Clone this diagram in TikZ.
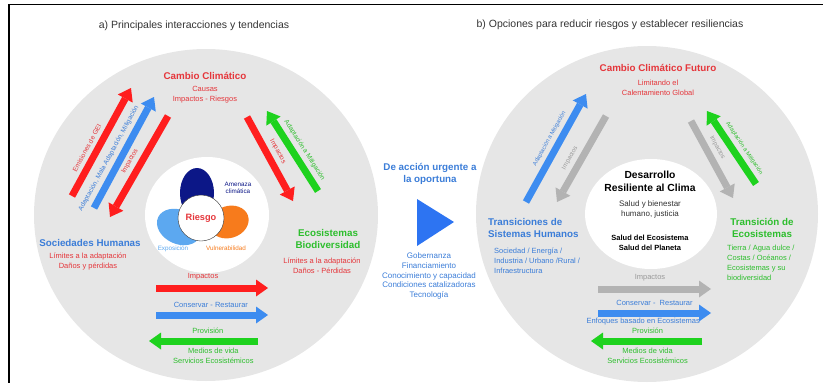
\documentclass[tikz,border=0pt]{standalone}
\usepackage{fontspec}
\setmainfont{Liberation Sans}
\usetikzlibrary{positioning,arrows.meta}
\definecolor{rojo}{HTML}{FF1E1E}
\definecolor{rojotxt}{HTML}{E5363B}
\definecolor{azul}{HTML}{3D8CF0}
\definecolor{azultxt}{HTML}{3B7DD8}
\definecolor{verde}{HTML}{1ED21E}
\definecolor{verdetxt}{HTML}{2DBE2D}
\definecolor{gris}{HTML}{E6E6E6}
\definecolor{grisflecha}{HTML}{B3B3B3}
\definecolor{gristxt}{HTML}{9A9A9A}
\definecolor{marino}{HTML}{0C1787}
\definecolor{naranja}{HTML}{F77B1C}
\definecolor{celeste}{HTML}{5CA8F0}
\definecolor{triangulo}{HTML}{2D74F2}
\definecolor{titulo}{HTML}{333333}
\newcommand{\txtgrande}{\fontsize{9.8}{12}\selectfont\bfseries}
\newcommand{\txtmedio}{\fontsize{7.5}{10}\selectfont}
\newcommand{\txtflecha}{\fontsize{6.6}{7}\selectfont}
\tikzset{%
  fat arrow/.style={
    line width=7pt,
    -{Triangle[width=17pt,length=12pt,line width=0pt]}
  },
  arrow label/.style={
    font=\txtflecha,
    inner sep=0pt,
    sloped
  },
}

\begin{document}
\begin{tikzpicture}[x=1pt,y=-1pt,>=latex]
        \tikzstyle{titulo}=[text=titulo,font=\fontsize{10.5}{12}\selectfont]
        \tikzstyle{encabezado}=[font=\txtgrande,align=center]
        \tikzstyle{detalle}=[font=\txtmedio,align=center,inner sep=0pt]
        \useasboundingbox (0,0) rectangle (823,383);

        % marco
        \draw[titulo,line width=1.6pt] (9,383) -- (9,4.5) -- (823,4.5);

        % circulos
        \fill[gris] (206,215) ellipse (172 and 166);
        \fill[gris] (647,214) ellipse (171 and 168);
        \fill[white] (207,215) ellipse (62 and 58);
        \fill[white] (651,214) ellipse (66 and 55);

        % titulos
        \node[titulo] (tituloA) at (194,26) {a) Principales interacciones y tendencias};
        \node[titulo] (tituloB) at (610,25) {b) Opciones para reducir riesgos y establecer resiliencias};

        % --- a) ---
        \node[encabezado,text=rojotxt] (cambio) at (205,76) {Cambio Climático};
        \node[detalle,text=rojotxt] (causas) at (205,95) {Causas\\Impactos - Riesgos};
        \node[encabezado,text=azultxt] (sociedades) at (90,243) {Sociedades Humanas};
        \node[detalle,text=rojotxt] (limitesA) at (88,262) {Límites a la adaptación\\Daños y pérdidas};
        \node[encabezado,text=verdetxt] (ecosistemas) at (328,239) {Ecosistemas\\Biodiversidad};
        \node[detalle,text=rojotxt] (limitesB) at (322,266) {Límites a la adaptación\\Daños - Pérdidas};

        % riesgo
        \fill[celeste,rotate around={-25:(179,227)}] (179,227) ellipse (23 and 17);
        \fill[naranja,rotate around={18:(229,222)}] (229,222) ellipse (20 and 16);
        \fill[marino] (197,193) ellipse (17 and 25);
        \node[circle,draw=titulo,fill=white,minimum size=46pt,inner sep=0pt,
              text=rojotxt,font=\fontsize{9.2}{10}\selectfont\bfseries] (riesgo) at (201,218) {Riesgo};
        \node[detalle,text=marino,font=\fontsize{6.3}{7.5}\selectfont] (amenaza) at (238,188) {Amenaza\\climática};
        \node[detalle,text=celeste,font=\fontsize{6.3}{7.5}\selectfont] (exposicion) at (173,249) {Exposición};
        \node[detalle,text=naranja,font=\fontsize{6.3}{7.5}\selectfont] (vulnerabilidad) at (226,248) {Vulnerabilidad};

        \coordinate (emi0) at (72,196);   \coordinate (emi1) at (131,88);
        \coordinate (ada0) at (94,208);   \coordinate (ada1) at (154,97);
        \coordinate (imp0) at (168,116);  \coordinate (imp1) at (110,217);
        \coordinate (impd0) at (247,117); \coordinate (impd1) at (293,201);
        \coordinate (mit0) at (318,191);  \coordinate (mit1) at (267,111);

        \draw[fat arrow,rojo] (emi0) -- node[arrow label,above=4pt,pos=0.4,text=rojotxt] (lblEmi) {Emisiones de GEI} (emi1);
        \draw[fat arrow,azul] (ada0) -- node[arrow label,above=4pt,pos=0.4,text=azultxt] (lblAda) {Adaptación, Mala Adaptación, Mitigación} (ada1);
        \draw[fat arrow,rojo] (imp0) -- node[arrow label,above=4pt,pos=0.5,text=rojotxt] (lblImp) {Impactos} (imp1);
        \draw[fat arrow,rojo] (impd0) -- node[arrow label,above=4pt,pos=0.47,text=rojotxt] (lblImpd) {Impactos} (impd1);
        \draw[fat arrow,verde] (mit0) -- node[arrow label,above=4pt,pos=0.44,text=verdetxt] (lblMit) {Adaptación a Mitigación} (mit1);

        \coordinate (li0) at (156,288); \coordinate (li1) at (268,288);
        \coordinate (lc0) at (156,315); \coordinate (lc1) at (268,315);
        \coordinate (lp0) at (258,341); \coordinate (lp1) at (149,341);

        \draw[fat arrow,rojo] (li0) -- node[detalle,above=4pt,pos=0.42,text=rojotxt] (lblLi) {Impactos} (li1);
        \draw[fat arrow,azul] (lc0) -- node[detalle,above=4pt,pos=0.49,text=azultxt] (lblLc) {Conservar - Restaurar} (lc1);
        \draw[fat arrow,verde] (lp0) -- node[detalle,above=4pt,pos=0.46,text=verdetxt] (lblLp) {Provisión}
              node[detalle,below=4pt,pos=0.41,text=verdetxt] (lblLm) {Medios de vida\\Servicios Ecosistémicos} (lp1);

        % centro
        \node[encabezado,text=azultxt] (accion) at (430,174) {De acción urgente a\\la oportuna};
        \coordinate (tri0) at (417,199); \coordinate (tri1) at (454,222); \coordinate (tri2) at (417,246);
        \fill[triangulo] (tri0) -- (tri1) -- (tri2) -- cycle;
        \node[detalle,text=azultxt,font=\fontsize{8}{9.6}\selectfont] (gobernanza) at (429,276)
              {Gobernanza\\Financiamiento\\Conocimiento y capacidad\\Condiciones catalizadoras\\Tecnología};

        % --- b) ---
        \node[encabezado,text=rojotxt] (futuro) at (658,68) {Cambio Climático Futuro};
        \node[detalle,text=rojotxt] (limitando) at (658,88) {Limitando el\\Calentamiento Global};
        \node[encabezado,font=\fontsize{10.3}{13}\selectfont\bfseries] (desarrollo) at (650,181) {Desarrollo\\Resiliente al Clima};
        \node[detalle,text=titulo,font=\fontsize{8}{10}\selectfont] (bienestar) at (650,209) {Salud y bienestar\\humano, justicia};
        \node[detalle,font=\fontsize{7.5}{10}\selectfont\bfseries] (planeta) at (650,243) {Salud del Ecosistema\\Salud del Planeta};
        \node[encabezado,text=azultxt,align=left,anchor=west,inner sep=0pt] (transiciones) at (488,228) {Transiciones de\\Sistemas Humanos};
        \node[detalle,text=azultxt,align=left,anchor=west] (sociedad) at (494,261) {Sociedad / Energía /\\Industria / Urbano /Rural /\\Infraestructura};
        \node[encabezado,text=verdetxt] (transicion) at (762,228) {Transición de\\Ecosistemas};
        \node[detalle,text=verdetxt,align=left,anchor=west] (tierra) at (727,263) {Tierra / Agua dulce /\\Costas / Océanos /\\Ecosistemas y su\\biodiversidad};

        \coordinate (rad0) at (526,202); \coordinate (rad1) at (586,94);
        \coordinate (rim0) at (606,116); \coordinate (rim1) at (557,202);
        \coordinate (rid0) at (691,121); \coordinate (rid1) at (733,198);
        \coordinate (rmi0) at (756,184); \coordinate (rmi1) at (707,111);

        \draw[fat arrow,azul] (rad0) -- node[arrow label,above=4pt,pos=0.54,text=azultxt,font=\fontsize{5.8}{6}\selectfont] (lblRad) {Adaptación a Mitigación} (rad1);
        \draw[fat arrow,grisflecha] (rim0) -- node[arrow label,above=4pt,pos=0.55,text=gristxt,font=\fontsize{6.3}{6}\selectfont] (lblRim) {Impactos} (rim1);
        \draw[fat arrow,grisflecha] (rid0) -- node[arrow label,above=4pt,pos=0.41,text=gristxt,font=\fontsize{6.3}{6}\selectfont] (lblRid) {Impactos} (rid1);
        \draw[fat arrow,verde] (rmi0) -- node[arrow label,above=4pt,pos=0.41,text=verdetxt,font=\fontsize{5.8}{6}\selectfont] (lblRmi) {Adaptación a Mitigación} (rmi1);

        \coordinate (ri0) at (598,289); \coordinate (ri1) at (711,289);
        \coordinate (rc0) at (598,313); \coordinate (rc1) at (711,313);
        \coordinate (rp0) at (702,341); \coordinate (rp1) at (591,341);

        \draw[fat arrow,grisflecha] (ri0) -- node[detalle,above=4pt,pos=0.46,text=gristxt] (lblRi) {Impactos} (ri1);
        \draw[fat arrow,azul] (rc0) -- node[detalle,above=4pt,pos=0.5,text=azultxt] (lblRc) {Conservar -\ \ Restaurar}
              node[detalle,below=1.5pt,pos=0.4,text=azultxt] (lblRe) {Enfoques basado en Ecosistemas} (rc1);
        \draw[fat arrow,verde] (rp0) -- node[detalle,above=4pt,pos=0.49,text=verdetxt] (lblRp) {Provisión}
              node[detalle,below=4pt,pos=0.49,text=verdetxt] (lblRm) {Medios de vida\\Servicios Ecosistémicos} (rp1);
\end{tikzpicture}
\end{document}
